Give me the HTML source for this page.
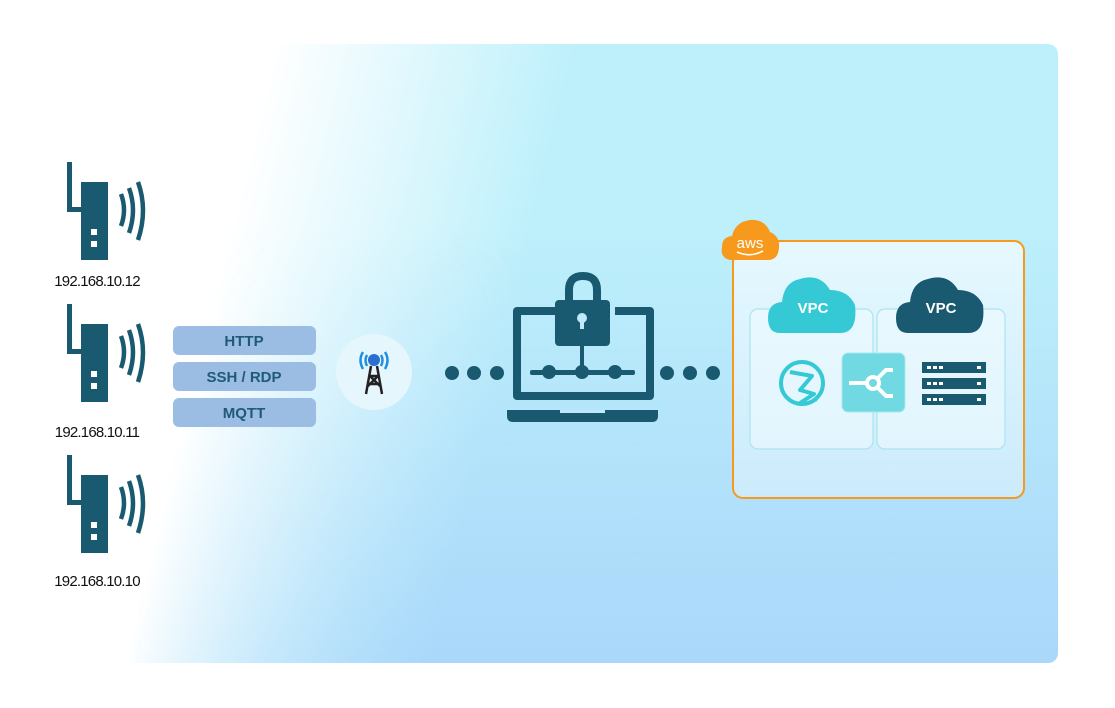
<!DOCTYPE html>
<html><head><meta charset="utf-8"><style>
html,body{margin:0;padding:0;background:#fff;}
svg{display:block;}
text{font-family:"Liberation Sans",sans-serif;}
</style></head><body>
<svg width="1115" height="708" viewBox="0 0 1115 708" xmlns="http://www.w3.org/2000/svg">
<defs>
<linearGradient id="g1" gradientUnits="userSpaceOnUse" x1="200" y1="347" x2="490" y2="417">
<stop offset="0" stop-color="#fff"/><stop offset="1" stop-color="#bdf0fb"/></linearGradient>
<linearGradient id="g2" x1="0" y1="0" x2="0" y2="1">
<stop offset="0.3" stop-color="#a9d7fa" stop-opacity="0"/><stop offset="1" stop-color="#a9d7fa" stop-opacity="1"/></linearGradient>
<linearGradient id="gm" gradientUnits="userSpaceOnUse" x1="200" y1="347" x2="490" y2="417">
<stop offset="0" stop-color="#000"/><stop offset="1" stop-color="#fff"/></linearGradient>
<mask id="m1"><rect x="0" y="0" width="1115" height="708" fill="url(#gm)"/></mask>
<linearGradient id="aw" x1="0" y1="0" x2="0" y2="1"><stop offset="0" stop-color="#eefaff" stop-opacity="0.85"/><stop offset="1" stop-color="#d6effd" stop-opacity="0.7"/></linearGradient>
<g id="dev">
<rect x="67" y="0" width="5" height="50" fill="#1a5a70"/>
<rect x="67" y="45" width="16" height="5" fill="#1a5a70"/>
<rect x="81" y="20" width="27" height="78" fill="#1a5a70"/>
<rect x="91" y="67" width="6" height="6" fill="#fff"/>
<rect x="91" y="79" width="6" height="6" fill="#fff"/>
<path d="M121 32 Q127 48 121 64" stroke="#1a5a70" stroke-width="4.5" fill="none"/>
<path d="M129 26 Q137 48 129 71" stroke="#1a5a70" stroke-width="4.5" fill="none"/>
<path d="M138 20 Q148 48 138 78" stroke="#1a5a70" stroke-width="4.5" fill="none"/>
</g>
</defs>
<rect x="20" y="44" width="1038" height="619" rx="10" fill="url(#g1)"/>
<rect x="20" y="44" width="1038" height="619" rx="10" fill="url(#g2)" mask="url(#m1)"/>

<use href="#dev" y="162"/>
<use href="#dev" y="304"/>
<use href="#dev" y="455"/>
<g font-size="15" fill="#111" text-anchor="middle" letter-spacing="-0.8">
<text x="97" y="286">192.168.10.12</text>
<text x="97" y="437">192.168.10.11</text>
<text x="97" y="586">192.168.10.10</text>
</g>

<g fill="#9bbde3">
<rect x="173" y="326" width="143" height="29" rx="6"/>
<rect x="173" y="362" width="143" height="29" rx="6"/>
<rect x="173" y="398" width="143" height="29" rx="6"/>
</g>
<g font-size="15" font-weight="bold" fill="#1f5a78" text-anchor="middle">
<text x="244" y="346">HTTP</text>
<text x="244" y="382">SSH / RDP</text>
<text x="244" y="418">MQTT</text>
</g>

<circle cx="374" cy="372" r="38" fill="#e6f6fd"/>
<g stroke="#1f90e0" stroke-width="2.5" fill="none">
<path d="M367 355 Q364 360 367 366"/><path d="M363 352 Q358 360 363 369"/>
<path d="M381 355 Q384 360 381 366"/><path d="M385 352 Q390 360 385 369"/>
</g>
<circle cx="374" cy="360" r="6" fill="#2a6fd0"/>
<g stroke="#222" stroke-width="2.5" fill="none">
<path d="M371 366 L366 394 M377 366 L382 394 M369 376 H379 M368 384 H381 M370 376 L380 386 M378 376 L368 386"/>
</g>

<g fill="#1a5a70">
<circle cx="452" cy="373" r="7"/><circle cx="474" cy="373" r="7"/><circle cx="497" cy="373" r="7"/>
<circle cx="667" cy="373" r="7"/><circle cx="690" cy="373" r="7"/><circle cx="713" cy="373" r="7"/>
</g>
<path d="M555 311 H517 V396 H650 V311 H615" stroke="#1a5a70" stroke-width="8" fill="none" stroke-linejoin="round"/>
<path d="M507 410 H658 V416 Q658 422 652 422 H513 Q507 422 507 416 Z" fill="#1a5a70"/>
<rect x="560" y="410" width="45" height="3" fill="#bfeafc"/>
<path d="M569 302 V290 Q569 276 583 276 Q597 276 597 290 V302" stroke="#1a5a70" stroke-width="8" fill="none"/>
<rect x="555" y="300" width="55" height="46" rx="4" fill="#1a5a70"/>
<circle cx="582" cy="318" r="5" fill="#bfeafc"/><rect x="580" y="318" width="4" height="11" fill="#bfeafc"/>
<rect x="580" y="345" width="4" height="28" fill="#1a5a70"/>
<rect x="530" y="370" width="105" height="5" rx="2" fill="#1a5a70"/>
<g fill="#1a5a70"><circle cx="549" cy="372" r="7"/><circle cx="582" cy="372" r="7"/><circle cx="615" cy="372" r="7"/></g>

<rect x="733" y="241" width="291" height="257" rx="10" fill="url(#aw)" stroke="#f7991c" stroke-width="2"/>
<path d="M730 260 Q720 258 722 247 Q722 237 732 236 Q735 222 750 220 Q765 219 770 232 Q780 236 779 248 Q778 260 768 260 Z" fill="#f7991c"/>
<text x="750" y="248" font-size="15" fill="#fff" text-anchor="middle">aws</text>
<path d="M737 252 Q750 258 763 251" stroke="#fff" stroke-width="1.6" fill="none"/>

<rect x="750" y="309" width="123" height="140" rx="8" fill="#eefaff" fill-opacity="0.6" stroke="#a9e5ee" stroke-width="1.2"/>
<rect x="877" y="309" width="128" height="140" rx="8" fill="#eefaff" fill-opacity="0.6" stroke="#a9e5ee" stroke-width="1.2"/>

<path d="M780 333 Q768 333 768 318 Q768 303 782 302 Q784 282 800 279 Q820 273 830 290 Q848 290 855 305 Q858 333 840 333 Z" fill="#35c9d6"/>
<text x="813" y="313" font-size="15" font-weight="bold" fill="#fff" text-anchor="middle">VPC</text>
<path d="M908 333 Q896 333 896 318 Q896 303 910 302 Q912 282 928 279 Q948 273 958 290 Q976 290 983 305 Q986 333 968 333 Z" fill="#1a5a70"/>
<text x="941" y="313" font-size="15" font-weight="bold" fill="#fff" text-anchor="middle">VPC</text>

<circle cx="802" cy="383" r="21" stroke="#35c9d6" stroke-width="4" fill="none"/>
<path d="M790 372 L812 376 L800 390 L814 394 L800 403" stroke="#35c9d6" stroke-width="4" fill="none" stroke-linejoin="round"/>
<text x="812" y="402" font-size="8" fill="#35c9d6">★</text>

<rect x="842" y="353" width="63" height="59" rx="6" fill="#70d9e2" stroke="#a9e9ef"/>
<g stroke="#fff" stroke-width="4" fill="none">
<path d="M849 383 H866"/><circle cx="873" cy="383" r="6"/>
<path d="M878 378 L886 370 H893 M878 388 L886 396 H893"/>
</g>

<g fill="#1a5a70"><rect x="922" y="362" width="64" height="11"/><rect x="922" y="378" width="64" height="11"/><rect x="922" y="394" width="64" height="11"/></g>
<g fill="#fff">
<rect x="927" y="366" width="4" height="3"/><rect x="933" y="366" width="4" height="3"/><rect x="939" y="366" width="4" height="3"/><rect x="977" y="366" width="4" height="3"/>
<rect x="927" y="382" width="4" height="3"/><rect x="933" y="382" width="4" height="3"/><rect x="939" y="382" width="4" height="3"/><rect x="977" y="382" width="4" height="3"/>
<rect x="927" y="398" width="4" height="3"/><rect x="933" y="398" width="4" height="3"/><rect x="939" y="398" width="4" height="3"/><rect x="977" y="398" width="4" height="3"/>
</g>
</svg>
</body></html>
